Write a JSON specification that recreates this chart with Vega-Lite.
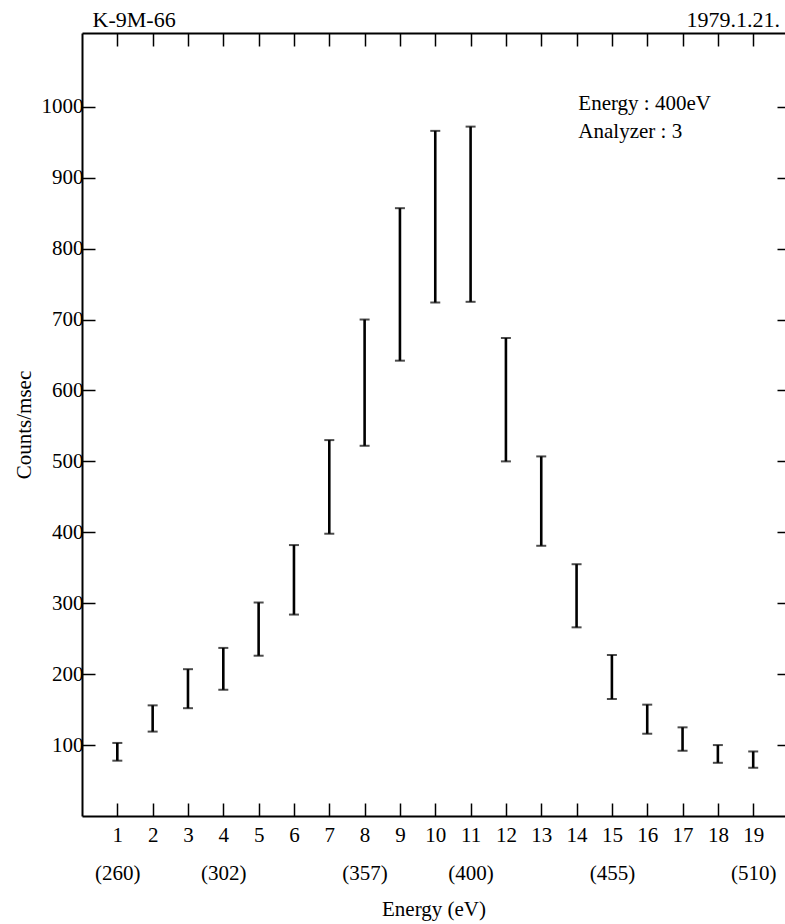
{
  "$schema": "https://vega.github.io/schema/vega-lite/v6.json",
  "width": 703,
  "height": 783,
  "autosize": {"type": "none"},
  "padding": {"left": 82, "top": 33, "right": 0, "bottom": 108},
  "background": "white",
  "config": {
    "view": {"stroke": null},
    "font": "Liberation Serif",
    "axis": {"domainColor": "black", "tickColor": "black", "labelColor": "black", "titleColor": "black", "labelFont": "Liberation Serif", "titleFont": "Liberation Serif", "titleFontWeight": "normal", "grid": false}
  },
  "datasets": {
    "bars": [
      {"channel": 1, "low": 78, "high": 103},
      {"channel": 2, "low": 119, "high": 156},
      {"channel": 3, "low": 152, "high": 207},
      {"channel": 4, "low": 178, "high": 237},
      {"channel": 5, "low": 226, "high": 301},
      {"channel": 6, "low": 284, "high": 382},
      {"channel": 7, "low": 398, "high": 530},
      {"channel": 8, "low": 522, "high": 700},
      {"channel": 9, "low": 642, "high": 857},
      {"channel": 10, "low": 724, "high": 966},
      {"channel": 11, "low": 725, "high": 972},
      {"channel": 12, "low": 500, "high": 674},
      {"channel": 13, "low": 381, "high": 507},
      {"channel": 14, "low": 266, "high": 355},
      {"channel": 15, "low": 165, "high": 227},
      {"channel": 16, "low": 116, "high": 157},
      {"channel": 17, "low": 92, "high": 125},
      {"channel": 18, "low": 75, "high": 100},
      {"channel": 19, "low": 68, "high": 91}
    ],
    "one": [{}]
  },
  "resolve": {"axis": {"x": "independent", "y": "independent"}},
  "layer": [
    {
      "data": {"name": "bars"},
      "mark": {"type": "rule", "strokeWidth": 2.6, "color": "black"},
      "encoding": {
        "x": {
          "field": "channel", "type": "quantitative",
          "scale": {"domain": [0, 19.9], "nice": false, "zero": false},
          "axis": {
            "orient": "bottom",
            "values": [1,2,3,4,5,6,7,8,9,10,11,12,13,14,15,16,17,18,19],
            "tickSize": -13, "tickWidth": 1.5, "domainWidth": 2,
            "labelPadding": 21, "labelFontSize": 21, "labelLineHeight": 38,
            "labelOverlap": false, "labelFlush": false,
            "labelExpr": "datum.value == 1 ? ['1', '(260)'] : datum.value == 4 ? ['4', '(302)'] : datum.value == 8 ? ['8', '(357)'] : datum.value == 11 ? ['11', '(400)'] : datum.value == 15 ? ['15', '(455)'] : datum.value == 19 ? ['19', '(510)'] : datum.label",
            "title": "Energy  (eV)", "titleFontSize": 21, "titlePadding": 15
          }
        },
        "y": {
          "field": "low", "type": "quantitative",
          "scale": {"domain": [0, 1104], "nice": false, "zero": false},
          "axis": {
            "orient": "left",
            "values": [100,200,300,400,500,600,700,800,900,1000],
            "format": "d",
            "tickSize": -13, "tickWidth": 1.5, "domainWidth": 2,
            "labelPadding": 12, "labelFontSize": 21,
            "title": "Counts/msec", "titleFontSize": 21, "titlePadding": 7
          }
        },
        "y2": {"field": "high"}
      }
    },
    {
      "data": {"name": "bars"},
      "mark": {"type": "tick", "orient": "horizontal", "size": 10, "thickness": 2, "color": "black"},
      "encoding": {
        "x": {
          "field": "channel", "type": "quantitative",
          "scale": {"domain": [0, 19.9], "nice": false, "zero": false},
          "axis": {
            "orient": "top",
            "values": [1,2,3,4,5,6,7,8,9,10,11,12,13,14,15,16,17,18,19],
            "tickSize": -13, "tickWidth": 1.5, "domainWidth": 2,
            "labels": false, "title": null
          }
        },
        "y": {
          "field": "low", "type": "quantitative",
          "scale": {"domain": [0, 1104], "nice": false, "zero": false},
          "axis": {
            "orient": "right",
            "values": [100,200,300,400,500,600,700,800,900,1000],
            "tickSize": -8, "tickWidth": 1.5, "domain": false,
            "labels": false, "title": null
          }
        }
      }
    },
    {
      "data": {"name": "bars"},
      "mark": {"type": "tick", "orient": "horizontal", "size": 10, "thickness": 2, "color": "black"},
      "encoding": {
        "x": {"field": "channel", "type": "quantitative", "scale": {"domain": [0, 19.9], "nice": false, "zero": false}, "axis": null},
        "y": {"field": "high", "type": "quantitative", "scale": {"domain": [0, 1104], "nice": false, "zero": false}, "axis": null}
      }
    },
    {
      "data": {"name": "one"},
      "mark": {"type": "text", "text": "K-9M-66", "align": "left", "baseline": "middle", "fontSize": 22, "font": "Liberation Serif", "color": "black"},
      "encoding": {
        "x": {"datum": 0.3, "type": "quantitative", "scale": {"domain": [0, 19.9], "nice": false, "zero": false}, "axis": null},
        "y": {"datum": 1122, "type": "quantitative", "scale": {"domain": [0, 1104], "nice": false, "zero": false}, "axis": null}
      }
    },
    {
      "data": {"name": "one"},
      "mark": {"type": "text", "text": "1979.1.21.", "align": "right", "baseline": "middle", "fontSize": 22, "font": "Liberation Serif", "color": "black"},
      "encoding": {
        "x": {"datum": 19.76, "type": "quantitative", "scale": {"domain": [0, 19.9], "nice": false, "zero": false}, "axis": null},
        "y": {"datum": 1122, "type": "quantitative", "scale": {"domain": [0, 1104], "nice": false, "zero": false}, "axis": null}
      }
    },
    {
      "data": {"name": "one"},
      "mark": {"type": "text", "text": "Energy : 400eV", "align": "left", "baseline": "middle", "fontSize": 21, "font": "Liberation Serif", "color": "black"},
      "encoding": {
        "x": {"datum": 14.05, "type": "quantitative", "scale": {"domain": [0, 19.9], "nice": false, "zero": false}, "axis": null},
        "y": {"datum": 1004, "type": "quantitative", "scale": {"domain": [0, 1104], "nice": false, "zero": false}, "axis": null}
      }
    },
    {
      "data": {"name": "one"},
      "mark": {"type": "text", "text": "Analyzer : 3", "align": "left", "baseline": "middle", "fontSize": 21, "font": "Liberation Serif", "color": "black"},
      "encoding": {
        "x": {"datum": 14.05, "type": "quantitative", "scale": {"domain": [0, 19.9], "nice": false, "zero": false}, "axis": null},
        "y": {"datum": 964, "type": "quantitative", "scale": {"domain": [0, 1104], "nice": false, "zero": false}, "axis": null}
      }
    }
  ]
}
